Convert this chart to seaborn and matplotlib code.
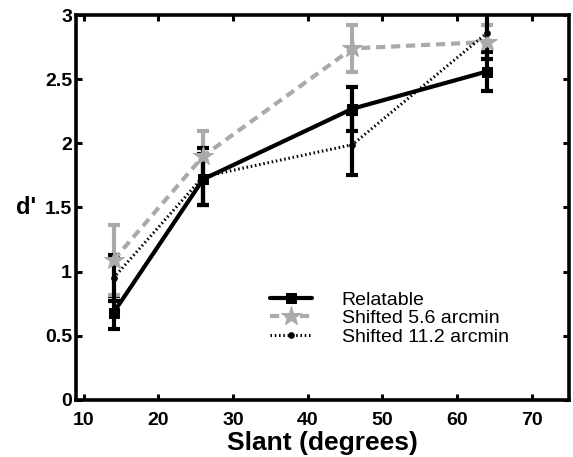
import numpy as np
import pandas as pd
import matplotlib
matplotlib.use("Agg")
import matplotlib.pyplot as plt
import seaborn as sns

slant = [14, 26, 46, 64]
relatable = [0.68, 1.72, 2.27, 2.56]
relatable_err = [0.13, 0.20, 0.17, 0.15]
shifted56 = [1.09, 1.90, 2.74, 2.79]
shifted56_err = [0.27, 0.20, 0.18, 0.13]
shifted112 = [0.95, 1.74, 1.99, 2.86]
shifted112_err = [0.18, 0.22, 0.24, 0.20]
labels = ["Relatable", "Shifted 5.6 arcmin", "Shifted 11.2 arcmin"]

sns.set_style("ticks", {"text.color": "black", "axes.edgecolor": "black",
                        "xtick.color": "black", "ytick.color": "black",
                        "axes.labelcolor": "black"})
plt.rcParams['font.family'] = ['Liberation Sans', 'DejaVu Sans']

df = pd.DataFrame({
    "slant": slant * 3,
    "d": relatable + shifted56 + shifted112,
    "series": [labels[0]] * 4 + [labels[1]] * 4 + [labels[2]] * 4,
})

fig = plt.figure(figsize=(5.73, 4.57), dpi=100)
ax = fig.add_axes([0.133, 0.125, 0.86, 0.842])

gray = "#aaaaaa"
styles = {
    labels[0]: dict(color="black", ls="-", lw=3, marker="s", ms=7, err=relatable_err, y=relatable),
    labels[1]: dict(color=gray, ls=(0, (2.2, 1.4)), lw=3, marker="*", ms=15, err=shifted56_err, y=shifted56),
    labels[2]: dict(color="black", ls=(0, (0.5, 0.9)), lw=2.2, marker="o", ms=4, err=shifted112_err, y=shifted112),
}

for lab in labels:
    st = styles[lab]
    sub = df[df.series == lab]
    ax.errorbar(slant, st["y"], yerr=st["err"], fmt="none", ecolor=st["color"],
                elinewidth=3, capsize=4, capthick=3, zorder=2)
    sns.lineplot(data=sub, x="slant", y="d", ax=ax, color=st["color"],
                 linestyle=st["ls"], linewidth=st["lw"], marker=st["marker"],
                 markersize=st["ms"], markeredgecolor=st["color"],
                 label=lab, zorder=3)

ax.set_xlim(9, 75)
ax.set_ylim(0, 3)
ax.set_xticks([10, 20, 30, 40, 50, 60, 70])
ax.set_yticks([0, 0.5, 1, 1.5, 2, 2.5, 3])
ax.set_yticklabels(["0", "0.5", "1", "1.5", "2", "2.5", "3"])
ax.tick_params(direction="in", length=4, width=2.2, top=True, right=True,
               labelsize=14, pad=3, colors="black")
ax.tick_params(axis="x", pad=9)
for t in ax.get_xticklabels() + ax.get_yticklabels():
    t.set_fontweight("bold")
for s in ax.spines.values():
    s.set_linewidth(2.6)
    s.set_color("black")
    s.set_visible(True)

ax.set_xlabel("Slant (degrees)", fontsize=19, fontweight="bold", labelpad=1, color="black")
ax.set_ylabel("d'", fontsize=17, fontweight="bold", rotation=0, color="black",
              ha="left", va="center")
ax.yaxis.set_label_coords(-0.122, 0.5)

leg = ax.legend(loc="lower right", bbox_to_anchor=(0.905, 0.105), frameon=False,
                fontsize=14, handlelength=2.2, labelspacing=0.05, borderpad=0.2,
                handletextpad=1.5)
for t in leg.get_texts():
    t.set_color("black")

fig.savefig("out.png", dpi=100)
